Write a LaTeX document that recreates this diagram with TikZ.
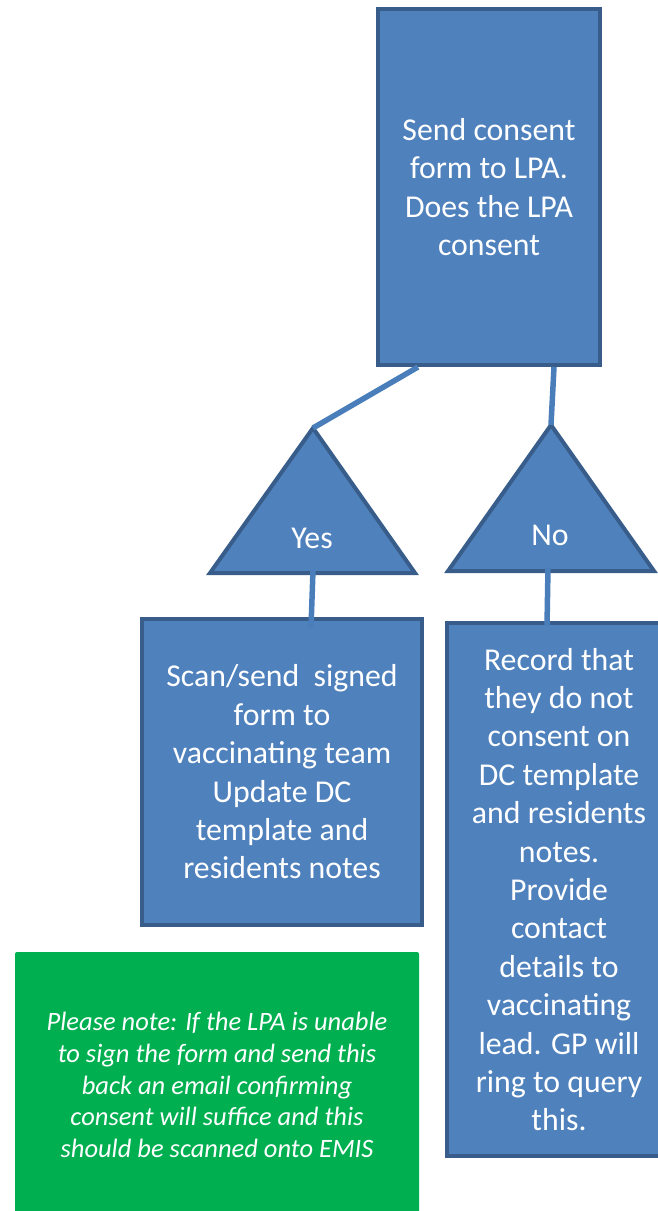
\documentclass[tikz,border=0pt]{standalone}
\usepackage{fontspec}
\setmainfont{Carlito}
\definecolor{boxblue}{HTML}{4F81BD}
\definecolor{edgeblue}{HTML}{385D8A}
\definecolor{linkblue}{HTML}{4A7EBB}
\definecolor{notegreen}{HTML}{00B050}
\tikzset{stepbox/.style = {draw = edgeblue, fill = boxblue, line width = 4pt, text = white, align = center, inner sep = 0, font = \fontsize{31.8}{38.4}\selectfont}}
\tikzset{tri/.style = {draw = edgeblue, fill = boxblue, line width = 4pt, line join = miter}}
\tikzset{answer/.style = {text = white, inner sep = 0, font = \fontsize{31.8}{38.4}\selectfont}}
\tikzset{link/.style = {draw = linkblue, line width = 5.5pt}}
\tikzset{note/.style = {fill = notegreen, rounded corners = 2pt, text = white, align = center, inner sep = 0, font = \fontsize{26.5}{31.8}\selectfont\itshape}}

\begin{document}
\begin{tikzpicture}[x = 1pt, y = -1pt]
    \useasboundingbox (0, 0) rectangle (658, 1211);
    % question
    \node [stepbox, minimum width = 222, minimum height = 356] (ask) at (489, 187)
      {Send consent\\form to LPA.\\Does the LPA\\consent};
    % answers
    \coordinate (yesTip) at (313, 428);
    \coordinate (noTip) at (551, 425);
    \draw [tri] (yesTip) -- (210, 573) -- (415, 573) -- cycle;
    \draw [tri] (noTip) -- (448, 571) -- (654, 571) -- cycle;
    \node [answer] (yes) at (312, 538) {Yes};
    \node [answer] (no) at (550, 535) {No};
    % actions
    \node [stepbox, minimum width = 280, minimum height = 306] (send) at (282, 772)
      {Scan/send~ signed\\form to\\vaccinating team\\Update DC\\template and\\residents notes};
    \node [stepbox, minimum width = 224, minimum height = 533] (record) at (559, 889.5)
      {Record that\\they do not\\consent on\\DC template\\and residents\\notes.\\Provide\\contact\\details to\\vaccinating\\lead. GP will\\ring to query\\this.};
    \node [note, minimum width = 404, minimum height = 266] (remark) at (217, 1085)
      {Please note: If the LPA is unable\\to sign the form and send this\\back an email confirming\\consent will suffice and this\\should be scanned onto EMIS};
    % connectors
    \draw [link] ([xshift = -71pt]ask.south) -- (yesTip);
    \draw [link] ([xshift = 65pt]ask.south) -- (noTip);
    \draw [link] (yesTip |- 0, 570) -- ([xshift = 29pt, yshift = -11pt]send.north);
    \draw [link] (548, 568) -- ([xshift = -12pt, yshift = -5pt]record.north);
  \end{tikzpicture}
\end{document}
